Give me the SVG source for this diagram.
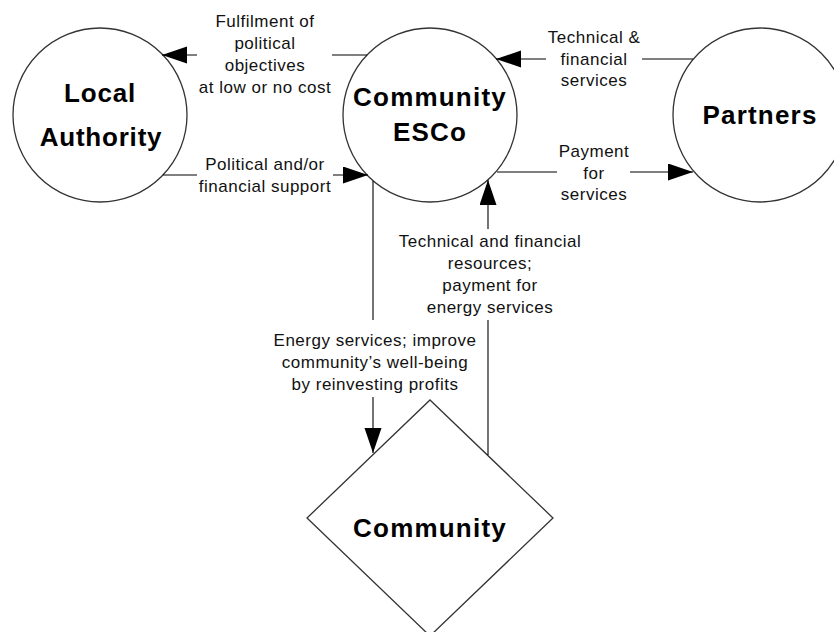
<svg xmlns="http://www.w3.org/2000/svg" width="834" height="632" viewBox="0 0 834 632">
  <defs>
    <marker id="arrow" markerUnits="userSpaceOnUse" markerWidth="26" markerHeight="18" refX="25" refY="8.5" orient="auto">
      <path d="M0,0 L25,8.5 L0,17 Z" fill="#000"/>
    </marker>
    <style>
      .node { fill: #fff; stroke: #333; stroke-width: 1.3; }
      .title { font-family: "Liberation Sans", Arial, sans-serif; font-weight: bold; font-size: 26px; letter-spacing: 1.2px; fill: #000; text-anchor: middle; }
      .label { font-family: "Liberation Sans", Arial, sans-serif; font-size: 17px; letter-spacing: 0.5px; fill: #111; text-anchor: middle; }
      .link { fill: none; stroke: #000; stroke-width: 1.1; }
    </style>
  </defs>
  <rect width="834" height="632" fill="#fff"/>

  <!-- Nodes -->
  <g id="local-authority">
    <circle class="node" cx="100" cy="115" r="87"/>
    <text class="title" x="100" y="102" style="letter-spacing:0.8px">Local</text>
    <text class="title" x="101" y="146" style="letter-spacing:0.8px">Authority</text>
  </g>
  <g id="community-esco">
    <circle class="node" cx="430" cy="115" r="87"/>
    <text class="title" x="430" y="106">Community</text>
    <text class="title" x="430" y="141">ESCo</text>
  </g>
  <g id="partners">
    <circle class="node" cx="760" cy="115" r="87"/>
    <text class="title" x="760" y="124">Partners</text>
  </g>
  <g id="community">
    <polygon class="node" points="430,400 553,518 430,636 307,518"/>
    <text class="title" x="430" y="537">Community</text>
  </g>

  <!-- Connectors -->
  <g id="connectors">
    <!-- ESCo to Local Authority -->
    <path class="link" d="M367,55 H332"/>
    <path class="link" d="M197,55 H162" marker-end="url(#arrow)"/>
    <!-- Local Authority to ESCo -->
    <path class="link" d="M163,175 H197"/>
    <path class="link" d="M333,175 H368" marker-end="url(#arrow)"/>
    <!-- Partners to ESCo -->
    <path class="link" d="M693,59 H642"/>
    <path class="link" d="M546,59 H496" marker-end="url(#arrow)"/>
    <!-- ESCo to Partners -->
    <path class="link" d="M497,172 H557"/>
    <path class="link" d="M630,172 H693" marker-end="url(#arrow)"/>
    <!-- ESCo to Community -->
    <path class="link" d="M373,181 V320"/>
    <path class="link" d="M373,397 V453" marker-end="url(#arrow)"/>
    <!-- Community to ESCo -->
    <path class="link" d="M488,455 V320"/>
    <path class="link" d="M488,229 V180" marker-end="url(#arrow)"/>
  </g>

  <!-- Connector labels -->
  <g id="labels">
    <text class="label" x="265" y="27">Fulfilment of</text>
    <text class="label" x="265" y="49">political</text>
    <text class="label" x="265" y="71">objectives</text>
    <text class="label" x="265" y="93">at low or no cost</text>

    <text class="label" x="265" y="170">Political and/or</text>
    <text class="label" x="265" y="192">financial support</text>

    <text class="label" x="594" y="43">Technical &amp;</text>
    <text class="label" x="594" y="65">financial</text>
    <text class="label" x="594" y="86">services</text>

    <text class="label" x="594" y="157">Payment</text>
    <text class="label" x="594" y="179">for</text>
    <text class="label" x="594" y="200">services</text>

    <text class="label" x="490" y="247">Technical and financial</text>
    <text class="label" x="490" y="269">resources;</text>
    <text class="label" x="490" y="291">payment for</text>
    <text class="label" x="490" y="313">energy services</text>

    <text class="label" x="375" y="346">Energy services; improve</text>
    <text class="label" x="375" y="368">community’s well-being</text>
    <text class="label" x="375" y="390">by reinvesting profits</text>
  </g>
</svg>
